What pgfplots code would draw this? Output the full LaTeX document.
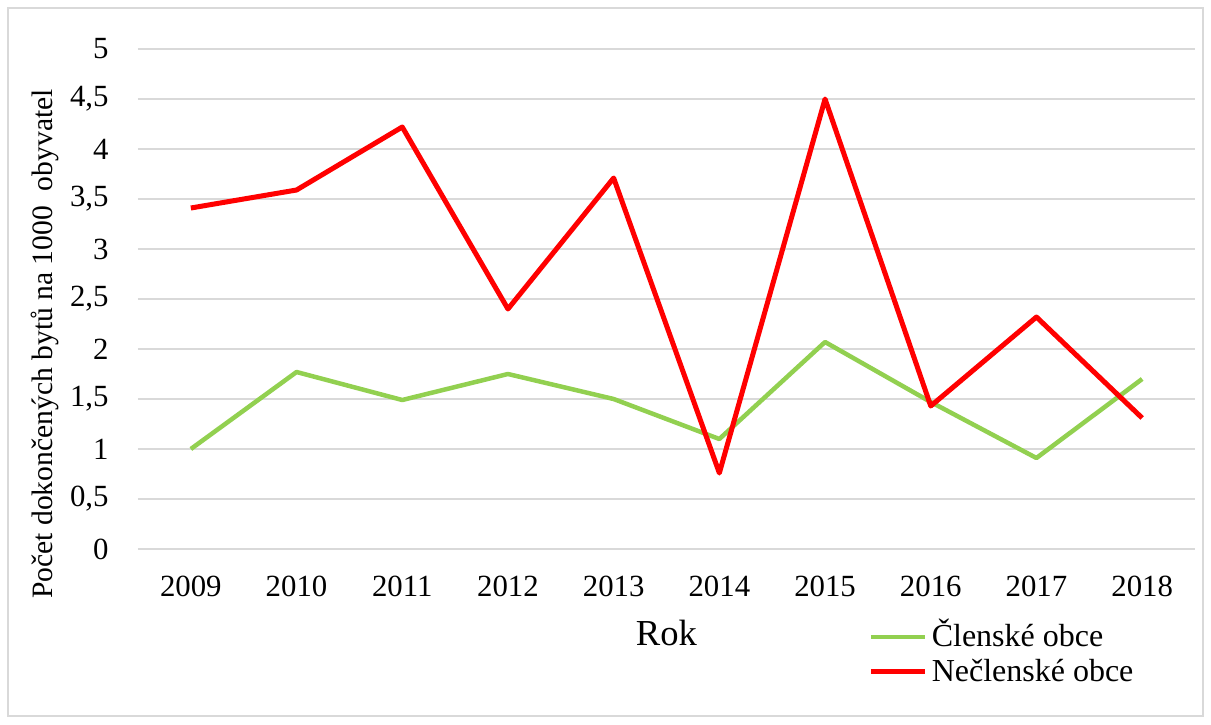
\documentclass[border=0pt]{standalone}
\usepackage{fontspec}
\setmainfont{Liberation Serif}
\usepackage{pgfplots}
\pgfplotsset{compat=1.18}
\definecolor{gridgray}{RGB}{217,217,217}
\definecolor{lgreen}{RGB}{146,208,80}
\begin{document}
\begin{tikzpicture}
\useasboundingbox (0,0) rectangle (605.5pt,-362pt);
\draw[gridgray, line width=0.75pt] (4pt,-4pt) rectangle (601.5pt,-358pt);
\begin{axis}[
  at={(69pt,-274.5pt)}, anchor=south west,
  scale only axis, width=528.5pt, height=250pt,
  xmin=2008.5, xmax=2018.5, ymin=0, ymax=5,
  xtick={2009,2010,2011,2012,2013,2014,2015,2016,2017,2018},
  ytick={0,0.5,1,1.5,2,2.5,3,3.5,4,4.5,5},
  axis line style={draw=none},
  major tick length=0pt,
  ymajorgrids, grid style={gridgray, line width=0.75pt},
  tick label style={font=\fontsize{15.4}{18}\selectfont, inner sep=0pt},
  xticklabel shift=13.2pt,
  yticklabel shift=14.5pt,
  /pgf/number format/use comma,
  /pgf/number format/1000 sep={},
  /pgf/number format/assume math mode=true,
  xlabel={Rok},
  xlabel style={at={(axis description cs:0.5,-0.168)}, anchor=center, font=\fontsize{18.3}{22}\selectfont, inner sep=0pt},
  ylabel={Počet dokončených bytů na 1000\ \ obyvatel},
  ylabel style={at={(axis description cs:-0.088,0.41)}, anchor=center, font=\fontsize{14.8}{17}\selectfont, inner sep=0pt},
  legend style={at={(axis description cs:0.6906,-0.140)}, anchor=north west, draw=none, fill=none, inner sep=0pt, row sep=0pt,
    font=\fontsize{16}{19}\selectfont,
    nodes={inner xsep=2.2pt, inner ysep=2pt, text height=11.5pt, text depth=2pt}},
  legend cell align=left,
  legend image code/.code={\draw[#1] (0pt,0pt) -- (27pt,0pt);},
]
\addplot[lgreen, line width=2.25pt, line join=round] coordinates {
(2009,1.00) (2010,1.77) (2011,1.49) (2012,1.75) (2013,1.50)
(2014,1.10) (2015,2.07) (2016,1.47) (2017,0.91) (2018,1.70)};
\addlegendentry{Členské obce}
\addplot[red, line width=2.5pt, line join=round] coordinates {
(2009,3.41) (2010,3.59) (2011,4.22) (2012,2.40) (2013,3.71)
(2014,0.76) (2015,4.50) (2016,1.43) (2017,2.32) (2018,1.31)};
\addlegendentry{Nečlenské obce}
\end{axis}
\end{tikzpicture}
\end{document}
